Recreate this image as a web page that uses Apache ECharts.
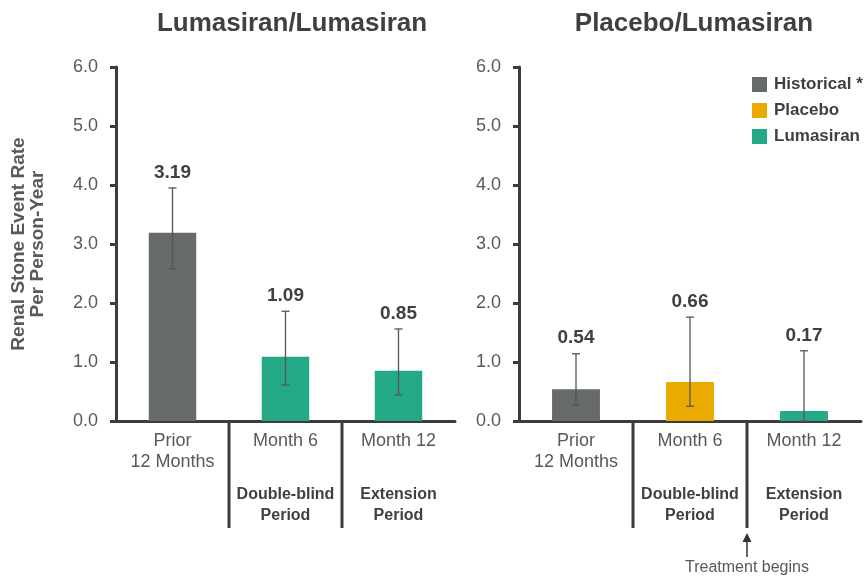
<!DOCTYPE html>
<html>
<head>
<meta charset="utf-8">
<script src="https://cdn.jsdelivr.net/npm/echarts@6/dist/echarts.min.js"></script>
<style>html,body{margin:0;padding:0;background:#fff}#c{width:868px;height:579px}</style>
</head>
<body>
<div id="c"></div>
<script>
// ---- data ----
const categories = ['Prior\n12 Months', 'Month 6', 'Month 12'];
const periods = ['', 'Double-blind\nPeriod', 'Extension\nPeriod'];
const panelTitles = ['Lumasiran/Lumasiran', 'Placebo/Lumasiran'];
const seriesNames = ['Historical *', 'Placebo', 'Lumasiran'];
const yAxisName = 'Renal Stone Event Rate\nPer Person-Year';
const yMin = 0, yMax = 6, yInterval = 1;

const leftHistorical = [3.19, '-', '-'];
const leftPlacebo = ['-', '-', '-'];
const leftLumasiran = ['-', 1.09, 0.85];
const leftValues = [3.19, 1.09, 0.85];
const leftCiLow = [2.58, 0.61, 0.44];
const leftCiHigh = [3.95, 1.86, 1.56];

const rightHistorical = [0.54, '-', '-'];
const rightPlacebo = ['-', 0.66, '-'];
const rightLumasiran = ['-', '-', 0.17];
const rightValues = [0.54, 0.66, 0.17];
const rightCiLow = [0.27, 0.25, 0.0];
const rightCiHigh = [1.14, 1.76, 1.19];

const separatorIdx = [1, 2];
const treatmentIdx = 2;
const treatmentLabel = 'Treatment begins';

// ---- styles ----
const colors = { 'Historical *': '#666b69', 'Placebo': '#eaaa00', 'Lumasiran': '#24a987' };
const FONT = '"Liberation Sans", Arial, sans-serif';
const axisColor = '#3c3c3c';
const textColor = '#595959';
const darkText = '#404040';

const chart = echarts.init(document.getElementById('c'));

function labelFormatter(value, idx) {
  let s = value.split('\n').map(l => '{n|' + l + '}').join('\n');
  if (periods[idx]) {
    s += '\n{g| }\n' + periods[idx].split('\n').map(l => '{b|' + l + '}').join('\n');
  }
  return s;
}

function makeXAxis(gi) {
  return {
    type: 'category', gridIndex: gi, data: categories,
    axisLine: { lineStyle: { color: axisColor, width: 3 } },
    axisTick: { show: false },
    axisLabel: {
      margin: 10, interval: 0, formatter: labelFormatter,
      rich: {
        n: { fontFamily: FONT, fontSize: 18, color: textColor, lineHeight: 21 },
        g: { fontSize: 10, lineHeight: 32 },
        b: { fontFamily: FONT, fontSize: 16, fontWeight: 'bold', color: darkText, lineHeight: 21 }
      }
    }
  };
}
function makeYAxis(gi, withName) {
  const ax = {
    type: 'value', gridIndex: gi, min: yMin, max: yMax, interval: yInterval,
    axisLine: { show: true, lineStyle: { color: axisColor, width: 3 } },
    axisTick: { show: true, inside: false, length: 6, lineStyle: { color: axisColor, width: 3 } },
    splitLine: { show: false },
    axisLabel: { margin: 18, fontFamily: FONT, fontSize: 18, color: textColor, formatter: v => v.toFixed(1) }
  };
  if (withName) {
    Object.assign(ax, {
      name: yAxisName, nameLocation: 'middle', nameGap: 69, nameRotate: 90,
      nameTextStyle: { fontFamily: FONT, fontSize: 19, fontWeight: 'bold', color: textColor, lineHeight: 19 }
    });
  }
  return ax;
}

function barSeries(name, data, gi) {
  return {
    type: 'bar', name: name, data: data, xAxisIndex: gi, yAxisIndex: gi,
    barWidth: '42%', barGap: '-100%',
    itemStyle: { color: colors[name] }
  };
}

function errorSeries(gi, low, high, vals) {
  return {
    type: 'custom', xAxisIndex: gi, yAxisIndex: gi, z: 5, clip: false, silent: true,
    data: low.map((l, i) => [i, l, high[i], vals[i]]),
    encode: { x: 0, y: [1, 2] },
    renderItem: function (params, api) {
      const i = api.value(0);
      const pLo = api.coord([i, api.value(1)]);
      const pHi = api.coord([i, api.value(2)]);
      const cap = 4;
      const st = { stroke: '#555', lineWidth: 1.3 };
      return {
        type: 'group', children: [
          { type: 'line', shape: { x1: pLo[0], y1: pLo[1], x2: pHi[0], y2: pHi[1] }, style: st },
          { type: 'line', shape: { x1: pHi[0] - cap, y1: pHi[1], x2: pHi[0] + cap, y2: pHi[1] }, style: st },
          { type: 'line', shape: { x1: pLo[0] - cap, y1: pLo[1], x2: pLo[0] + cap, y2: pLo[1] }, style: st },
          { type: 'text', x: pHi[0], y: pHi[1] - 6,
            style: { text: api.value(3).toFixed(2), textAlign: 'center', textVerticalAlign: 'bottom',
                     font: 'bold 19px ' + FONT, fill: darkText } }
        ]
      };
    }
  };
}

function separatorSeries(gi, withTreatment) {
  return {
    type: 'custom', xAxisIndex: gi, yAxisIndex: gi, z: 6, clip: false, silent: true,
    data: separatorIdx.map(i => [i, 0]),
    encode: { x: 0, y: 1 },
    renderItem: function (params, api) {
      const i = api.value(0);
      const p = api.coord([i, 0]);
      const w = api.size([1, 0])[0];
      const x = Math.round(p[0] - w / 2);
      const children = [
        { type: 'line', shape: { x1: x, y1: p[1], x2: x, y2: p[1] + 107 },
          style: { stroke: axisColor, lineWidth: 3 } }
      ];
      if (withTreatment && i === treatmentIdx) {
        const tip = p[1] + 112;
        children.push(
          { type: 'line', shape: { x1: x, y1: tip + 4, x2: x, y2: tip + 24 }, style: { stroke: '#333', lineWidth: 1.5 } },
          { type: 'polygon', shape: { points: [[x, tip], [x - 4.5, tip + 9], [x + 4.5, tip + 9]] }, style: { fill: '#333' } },
          { type: 'text', x: x, y: p[1] + 147,
            style: { text: treatmentLabel, textAlign: 'center', textVerticalAlign: 'middle',
                     font: '16px ' + FONT, fill: textColor } }
        );
      }
      return { type: 'group', children: children };
    }
  };
}

const option = {
  backgroundColor: '#fff',
  animation: false,
  title: [
    { text: panelTitles[0], left: 287, top: 6, textAlign: 'center',
      textStyle: { fontFamily: FONT, fontSize: 26, fontWeight: 'bold', color: darkText } },
    { text: panelTitles[1], left: 689, top: 6, textAlign: 'center',
      textStyle: { fontFamily: FONT, fontSize: 26, fontWeight: 'bold', color: darkText } }
  ],
  legend: {
    orient: 'vertical', left: 747, top: 71, itemWidth: 15, itemHeight: 15, itemGap: 9,
    icon: 'rect', data: seriesNames, selectedMode: false,
    textStyle: { fontFamily: FONT, fontSize: 17, fontWeight: 'bold', color: darkText, padding: [0, 0, 0, 2] }
  },
  grid: [
    { left: 116, top: 67, width: 339, height: 354 },
    { left: 519, top: 67, width: 342, height: 354 }
  ],
  xAxis: [makeXAxis(0), makeXAxis(1)],
  yAxis: [makeYAxis(0, true), makeYAxis(1, false)],
  series: [
    barSeries('Historical *', leftHistorical, 0),
    barSeries('Placebo', leftPlacebo, 0),
    barSeries('Lumasiran', leftLumasiran, 0),
    barSeries('Historical *', rightHistorical, 1),
    barSeries('Placebo', rightPlacebo, 1),
    barSeries('Lumasiran', rightLumasiran, 1),
    errorSeries(0, leftCiLow, leftCiHigh, leftValues),
    errorSeries(1, rightCiLow, rightCiHigh, rightValues),
    separatorSeries(0, false),
    separatorSeries(1, true)
  ]
};
chart.setOption(option);
</script>
</body>
</html>
